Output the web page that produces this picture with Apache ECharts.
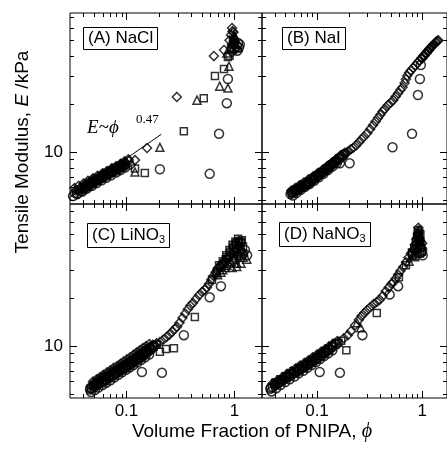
<!DOCTYPE html>
<html><head><meta charset="utf-8">
<script src="https://cdn.jsdelivr.net/npm/echarts@6/dist/echarts.min.js"></script>
<style>html,body{margin:0;padding:0;background:#fff}#c{width:447px;height:453px}</style>
</head><body><div id="c"></div>
<script>
// ---- tick values ----
const xMajorTicks = [0.1, 1];
const xMinorTicks = [0.04,0.05,0.06,0.07,0.08,0.09,0.2,0.3,0.4,0.5,0.6,0.7,0.8,0.9];
const yMajorTicks = [10];
const yMinorTicks = [5,6,7,8,9,20,30,40,50,60,70];
const xLabels = [0.1, 1];
const yLabels = [10];
const panelNames = ['(A) NaCl', '(B) NaI', '(C) LiNO', '(D) NaNO'];

// ---- data [phi, E(kPa)] ----
const A_circles = [[0.035,5.5],[0.038,5.7],[0.041,5.9],[0.045,6.1],[0.049,6.35],[0.054,6.6],[0.059,6.85],[0.065,7.1],[0.071,7.35],[0.078,7.6],[0.086,7.85],[0.094,8.1],
  [0.032,5.3],[0.035,5.45],[0.039,5.65],[0.043,5.9],[0.048,6.15],[0.053,6.4],[0.059,6.65],[0.065,6.9],[0.072,7.15],[0.08,7.45],[0.088,7.7],[0.097,8.0],
  [0.0335,5.55],[0.0375,5.85],[0.0415,6.05],[0.0455,6.3],[0.05,6.5],[0.055,6.75],[0.0605,7.0],[0.0665,7.3],[0.073,7.55],[0.0805,7.8],[0.0885,8.1],[0.097,8.35],
  [0.204,7.8],[0.59,7.3],[0.72,13.0],[0.85,20.2],[0.87,28.6],[1.0,44],[1.05,46],[1.08,48],[1.1,45],[1.12,47],[1.06,43]];
const A_squares = [[0.036,5.8],[0.040,6.05],[0.044,6.3],[0.048,6.5],[0.053,6.75],[0.058,7.0],[0.064,7.25],[0.070,7.5],[0.077,7.75],[0.085,8.0],[0.093,8.25],
  [0.12,7.9],[0.148,7.4],[0.34,13.5],[0.52,21.7],[0.66,29.9],[0.80,33],[0.87,39.3],[0.93,45],[0.97,50],[0.9,40],[0.94,44],[0.97,47],[1.0,49]];
const A_triangles = [[0.037,5.9],[0.042,6.2],[0.047,6.45],[0.052,6.7],[0.057,6.95],[0.063,7.2],[0.069,7.5],[0.076,7.8],[0.084,8.05],[0.092,8.35],[0.10,8.6],
  [0.12,7.5],[0.204,10.7],[0.45,21.1],[0.73,25.8],[0.87,25.1],[0.89,34.4],[0.85,41.6],[0.95,48],[1.0,52],[1.03,51],[0.99,54],[1.02,47],[1.08,45]];
const A_diamonds = [[0.034,5.75],[0.039,6.1],[0.043,6.35],[0.047,6.6],[0.051,6.8],[0.056,7.05],[0.061,7.3],[0.067,7.55],[0.074,7.85],[0.081,8.1],[0.089,8.4],[0.097,8.6],[0.105,8.8],
  [0.033,5.95],[0.036,6.15],[0.04,6.35],[0.044,6.6],[0.049,6.85],[0.054,7.1],[0.06,7.35],[0.066,7.6],[0.073,7.9],[0.08,8.15],[0.088,8.45],[0.096,8.75],[0.104,9.0],
  [0.11,8.3],[0.12,8.9],[0.155,10.6],[0.293,22.1],[0.645,39.8],[0.80,43.4],[0.93,54],[0.95,59.6],[0.9,50],[0.98,56],[0.96,57],[0.95,42]];
const A_fitLine = [[0.03,5.2],[0.21,12.9]];

const B_circles = [[0.056,5.45],[0.058,5.55],[0.060,5.6],[0.062,5.7],[0.064,5.75],[0.066,5.85],[0.068,5.9],[0.070,5.95],[0.073,6.05],[0.076,6.15],[0.079,6.25],[0.082,6.35],[0.085,6.45],[0.089,6.6],[0.093,6.75],[0.097,6.9],[0.101,7.05],[0.106,7.2],[0.111,7.4],[0.116,7.55],[0.122,7.75],[0.128,7.95],[0.134,8.15],[0.141,8.4],[0.148,8.6],[0.155,8.85],[0.163,9.1],[0.171,9.35],[0.18,9.6],
  [0.059,5.35],[0.064,5.55],[0.07,5.8],[0.077,6.05],[0.085,6.3],[0.094,6.6],[0.104,6.95],[0.115,7.3],[0.127,7.7],[0.14,8.1],[0.154,8.5],
  [0.0575,5.6],[0.063,5.8],[0.069,6.05],[0.0755,6.3],[0.083,6.55],[0.0915,6.85],[0.101,7.15],[0.111,7.5],[0.122,7.9],[0.134,8.3],[0.147,8.7],[0.161,9.15],[0.176,9.6],
  [0.165,8.5],[0.204,8.5],[0.522,10.7],[0.80,13.0],[0.91,22.7],[0.95,28.6],[0.97,35]];
const B_diamonds = [[0.06,5.75],[0.07,6.2],[0.08,6.5],[0.09,6.85],[0.10,7.2],[0.11,7.55],[0.12,7.9],[0.13,8.25],[0.14,8.6],[0.15,8.9],[0.16,9.2],[0.17,9.5],
  [0.057,5.75],[0.062,5.95],[0.068,6.2],[0.075,6.45],[0.083,6.75],[0.092,7.05],[0.102,7.4],[0.113,7.75],[0.125,8.15],[0.138,8.55],[0.152,9.0],[0.167,9.45],[0.183,9.9],
  [0.19,9.9],[0.20,10.15],[0.21,10.4],[0.22,10.6],[0.235,11.0],[0.25,11.5],[0.265,12.0],[0.28,12.5],[0.30,13.1],[0.32,13.9],[0.34,14.7],[0.36,15.5],[0.38,16.3],[0.40,17.1],[0.42,17.9],[0.44,18.6],[0.47,19.6],[0.50,20.3],[0.53,21.1],[0.56,22.2],[0.59,23.3],[0.62,24.4],[0.65,25.4],[0.68,27.0],[0.70,28.5],[0.72,30],[0.75,31.3],[0.78,32.3],[0.82,33.5],[0.86,34.8],[0.90,36],[0.94,37.3],[0.98,38.6],[1.02,39.8],[1.07,41.3],[1.12,42.8],[1.17,44.2],[1.22,45.6],[1.28,47],[1.34,48.3],[1.40,49.5],
  [1.0,38.5],[1.05,40],[1.1,41.5],[1.15,43],[1.2,44.5],[1.25,46],[1.3,47.5],[1.36,49],[1.42,50]];

const C_circles = [[0.046,5.35],[0.048,5.45],[0.050,5.55],[0.052,5.65],[0.054,5.75],[0.056,5.85],[0.059,5.95],[0.062,6.05],[0.065,6.15],[0.068,6.3],[0.071,6.4],[0.075,6.55],[0.079,6.7],[0.083,6.85],[0.087,7.0],[0.092,7.15],[0.097,7.3],[0.102,7.45],[0.108,7.65],[0.114,7.85],[0.12,8.05],[0.127,8.25],[0.134,8.45],[0.142,8.7],[0.15,8.95],[0.158,9.2],[0.167,9.5],[0.176,9.8],
  [0.047,5.15],[0.051,5.3],[0.055,5.5],[0.06,5.7],[0.065,5.9],[0.071,6.1],[0.077,6.35],[0.084,6.6],[0.091,6.85],[0.099,7.1],[0.107,7.35],[0.116,7.6],[0.126,7.9],[0.137,8.2],[0.149,8.5],[0.162,8.85],
  [0.0465,5.45],[0.0505,5.65],[0.055,5.85],[0.0595,6.0],[0.064,6.2],[0.069,6.45],[0.0745,6.65],[0.0805,6.9],[0.087,7.15],[0.094,7.4],[0.1015,7.65],[0.11,7.95],[0.119,8.25],[0.129,8.55],[0.14,8.9],[0.152,9.25],[0.165,9.65],[0.18,10.05],
  [0.139,6.88],[0.213,6.8],[0.34,11.7],[0.59,20.2],[0.75,23.7],[1.31,37],[1.2,38],[1.25,40]];
const C_squares = [[0.05,5.7],[0.055,5.95],[0.06,6.15],[0.065,6.35],[0.07,6.55],[0.076,6.75],[0.082,6.95],[0.088,7.15],[0.095,7.4],[0.102,7.6],[0.11,7.85],[0.118,8.1],[0.127,8.4],[0.136,8.7],[0.146,9.0],[0.156,9.3],[0.167,9.6],[0.178,9.9],[0.19,10.2],
  [0.204,9.2],[0.232,9.6],[0.275,9.7],[0.43,15.2],[0.62,26],[0.68,28.5],[0.74,31],[0.8,33],[0.86,36],[0.92,39],[0.98,42],[1.04,44],[1.1,45.5],[1.17,46],
  [0.72,32],[0.78,34],[0.84,37],[0.9,40],[0.96,43],[1.02,45],[1.08,47],[1.14,44],[1.2,42],
  [0.69,29.5],[0.76,32],[0.83,35],[0.9,38],[0.97,41],[1.03,43],[1.09,44.5],[1.15,45]];
const C_diamonds = [[0.047,5.65],[0.05,5.85],[0.054,6.05],[0.058,6.25],[0.062,6.45],[0.067,6.65],[0.072,6.85],[0.077,7.05],[0.083,7.25],[0.089,7.5],[0.095,7.7],[0.102,7.95],[0.109,8.2],[0.117,8.45],[0.125,8.75],[0.134,9.0],[0.143,9.3],[0.153,9.6],[0.164,9.9],[0.175,10.2],
  [0.049,6.0],[0.053,6.2],[0.057,6.4],[0.061,6.6],[0.066,6.85],[0.071,7.05],[0.076,7.3],[0.082,7.5],[0.088,7.75],[0.094,8.0],[0.101,8.25],[0.108,8.5],[0.116,8.8],[0.124,9.1],[0.133,9.4],[0.142,9.7],[0.152,10.0],[0.163,10.3],
  [0.19,10.4],[0.204,10.6],[0.22,11.0],[0.235,11.4],[0.25,11.8],[0.265,12.3],[0.28,12.8],[0.294,13.2],[0.31,14],[0.33,15],[0.35,16],[0.37,17],[0.39,17.9],[0.413,18.6],[0.44,19.7],[0.47,20.8],[0.50,21.8],[0.53,22.5],[0.556,23.3],[0.58,24.5],[0.61,26],[0.64,27.5],[0.67,29],[0.7,30.3],[0.73,31.5],[0.77,32.8],[0.81,34],[0.85,35.2],[0.9,36.5],[0.95,37.8],[1.0,39],[1.05,40.5],[1.1,42]];
const C_triangles = [[0.7,28],[0.78,30],[0.85,32],[0.92,34],[1.0,36],[1.08,38],[1.15,40],[0.95,31],[1.05,33],
  [0.75,29],[0.82,31],[0.88,33],[0.98,35],[1.12,37],[1.2,36],[1.3,35],[1.05,31.5],[1.15,33],[1.0,37],[1.08,39],[1.16,41],[1.22,39]];

const D_circles = [[0.036,5.4],[0.038,5.55],[0.040,5.7],[0.042,5.8],[0.044,5.95],[0.046,6.05],[0.048,6.15],[0.051,6.3],[0.054,6.45],[0.057,6.6],[0.06,6.75],[0.064,6.9],[0.068,7.05],[0.072,7.25],[0.076,7.4],[0.081,7.6],[0.086,7.8],[0.091,8.0],[0.097,8.2],[0.103,8.45],[0.11,8.7],[0.117,9.0],[0.124,9.3],[0.132,9.6],
  [0.037,5.2],[0.041,5.45],[0.045,5.7],[0.05,5.95],[0.055,6.2],[0.061,6.45],[0.067,6.75],[0.074,7.0],[0.081,7.3],[0.089,7.6],[0.098,7.95],[0.107,8.3],[0.117,8.65],[0.128,9.0],[0.14,9.4],
  [0.0365,5.5],[0.0395,5.7],[0.043,5.9],[0.047,6.15],[0.0515,6.4],[0.0565,6.65],[0.062,6.9],[0.068,7.2],[0.0745,7.45],[0.0815,7.75],[0.0895,8.05],[0.098,8.4],[0.1075,8.75],[0.1175,9.1],[0.128,9.45],[0.14,9.85],[0.153,10.25],
  [0.106,6.88],[0.165,6.8],[0.27,11.7],[0.49,21],[0.59,23.7],[1.01,37],[0.98,38.5],[1.0,40]];
const D_squares = [[0.04,5.9],[0.045,6.2],[0.05,6.45],[0.055,6.7],[0.06,6.95],[0.066,7.2],[0.072,7.45],[0.079,7.7],[0.086,8.0],[0.094,8.3],[0.102,8.6],[0.111,8.95],[0.12,9.3],[0.13,9.65],[0.14,10.0],[0.15,10.3],[0.16,10.5],[0.17,10.8],
  [0.19,9.4],[0.37,16.1],[0.6,27],[0.7,32],[0.8,37],[0.88,42],[0.93,46],[0.96,50],[0.95,38],[0.9,38],[0.86,36],
  [0.8,38.5],[0.84,41],[0.87,45],[0.895,49],[0.91,53],[0.93,49],[0.95,45],[0.97,42],[0.99,39]];
const D_diamonds = [[0.038,5.85],[0.042,6.1],[0.047,6.4],[0.052,6.7],[0.057,6.95],[0.063,7.25],[0.069,7.55],[0.076,7.85],[0.083,8.15],[0.091,8.5],[0.1,8.85],[0.109,9.2],[0.119,9.55],[0.13,9.95],[0.142,10.35],[0.155,10.7],
  [0.18,11.2],[0.196,11.7],[0.21,12.4],[0.23,13.5],[0.25,14.6],[0.265,15.4],[0.281,16.1],[0.30,16.8],[0.32,17.5],[0.345,18.3],[0.37,18.9],[0.395,19.5],[0.42,20.6],[0.45,22],[0.48,23.3],[0.51,24.5],[0.533,25.2],[0.56,26.5],[0.59,28],[0.62,29.5],[0.66,31.2],[0.7,33.5],[0.74,35.8],[0.78,38],[0.817,40],[0.85,43],[0.88,46.5],[0.91,50],[0.93,53],[0.92,55],
  [0.85,40],[0.88,44],[0.9,48],[0.92,51],[0.94,47],[0.96,43],[0.98,41],[1.0,44]];
const D_triangles = [[0.24,14],[0.26,13],[0.75,34],[0.82,37],[0.9,41],[0.95,45],[0.97,48],[0.92,52]];

// ---- layout ----
const grids = [
  {left:70, top:13, width:192, height:191},
  {left:262, top:13, width:190, height:191},
  {left:70, top:204, width:192, height:194},
  {left:262, top:204, width:190, height:194}
];
const xR = [[0.03,1.8],[0.03,1.72],[0.03,1.8],[0.03,1.72]];
const yR = [[4.73,74],[4.73,74],[4.73,77.5],[4.73,77.5]];
const FONT = '"Liberation Sans", Arial, Helvetica, sans-serif';

const chart = echarts.init(document.getElementById('c'), null, {renderer:'canvas'});

const xAxes = grids.map((g,i)=>({
  type:'log', gridIndex:i, min:xR[i][0], max:xR[i][1], logBase:10,
  axisLine:{show:false}, axisTick:{show:false}, splitLine:{show:false}, minorTick:{show:false},
  axisLabel:{show: i>=2, customValues:xLabels, formatter:v=>String(+(+v).toPrecision(3)), color:'#000', fontSize:17, fontFamily:FONT, margin:5}
}));
const yAxes = grids.map((g,i)=>({
  type:'log', gridIndex:i, min:yR[i][0], max:yR[i][1], logBase:10,
  axisLine:{show:false}, axisTick:{show:false}, splitLine:{show:false}, minorTick:{show:false},
  axisLabel:{show: i%2===0, customValues:yLabels, formatter:v=>String(Math.round(+v)), color:'#000', fontSize:17, fontFamily:FONT, margin:7}
}));

const markerStyle = {color:'rgba(255,255,255,0)', borderColor:'#000', borderWidth:1.5};
function scatter(i, data, name, size){
  return {type:'scatter', xAxisIndex:i, yAxisIndex:i, data, symbol:name, symbolSize:size,
    itemStyle:markerStyle, silent:true, animation:false, z:2, large:false};
}

function tickSeries(i){
  const xd = xMajorTicks.map(v=>[v,10,1]).concat(xMinorTicks.map(v=>[v,10,0]))
    .filter(d=>d[0]>xR[i][0] && d[0]<xR[i][1]);
  const yd = yMajorTicks.map(v=>[0.3,v,1]).concat(yMinorTicks.map(v=>[0.3,v,0]))
    .filter(d=>d[1]>yR[i][0] && d[1]<yR[i][1]);
  const st = {stroke:'#000', lineWidth:1};
  return [
    {type:'custom', xAxisIndex:i, yAxisIndex:i, data:xd, silent:true, animation:false, z:5,
     renderItem:(p,api)=>{
       const v=api.value(0), L=api.value(2)?7:4;
       const b=api.coord([v,yR[i][0]]), t=api.coord([v,yR[i][1]]);
       const x=Math.round(b[0])+0.5;
       return {type:'group', children:[
         {type:'line', shape:{x1:x,y1:b[1],x2:x,y2:b[1]-L}, style:st},
         {type:'line', shape:{x1:x,y1:t[1],x2:x,y2:t[1]+L}, style:st}]};
     }},
    {type:'custom', xAxisIndex:i, yAxisIndex:i, data:yd, silent:true, animation:false, z:5,
     renderItem:(p,api)=>{
       const v=api.value(1), L=api.value(2)?7:4;
       const l=api.coord([xR[i][0],v]), r=api.coord([xR[i][1],v]);
       const y=Math.round(l[1])+0.5;
       return {type:'group', children:[
         {type:'line', shape:{x1:l[0],y1:y,x2:l[0]+L,y2:y}, style:st},
         {type:'line', shape:{x1:r[0],y1:y,x2:r[0]-L,y2:y}, style:st}]};
     }}
  ];
}

let series = [];
series.push(scatter(0,A_circles,'circle',9), scatter(0,A_squares,'rect',7), scatter(0,A_triangles,'triangle',8), scatter(0,A_diamonds,'diamond',9));
series.push({type:'line', xAxisIndex:0, yAxisIndex:0, data:A_fitLine, symbol:'none', lineStyle:{color:'#000', width:1}, silent:true, animation:false, z:3});
series.push(scatter(1,B_circles,'circle',9), scatter(1,B_diamonds,'diamond',9));
series.push(scatter(2,C_circles,'circle',9), scatter(2,C_squares,'rect',7), scatter(2,C_triangles,'triangle',8), scatter(2,C_diamonds,'diamond',9));
series.push(scatter(3,D_circles,'circle',9), scatter(3,D_squares,'rect',7), scatter(3,D_triangles,'triangle',8), scatter(3,D_diamonds,'diamond',9));
for (let i=0;i<4;i++) series = series.concat(tickSeries(i));

const labelPos = [[83,27],[282,27],[87,222],[279,221]];
const titles = panelNames.map((n,i)=>({
  text: i>=2 ? '{n|'+n+'}{s|3}' : '{n|'+n+'}',
  left: labelPos[i][0], top: labelPos[i][1],
  borderColor:'#000', borderWidth:1, padding:[3,5,3,5], backgroundColor:'#fff',
  textStyle:{fontSize:17, fontWeight:'normal', color:'#000', fontFamily:FONT,
    rich:{n:{fontSize:17, fontFamily:FONT, color:'#000'}, s:{fontSize:11, fontFamily:FONT, color:'#000', padding:[9,0,0,0]}}}
}));

chart.setOption({
  animation:false,
  backgroundColor:'#fff',
  title: titles,
  grid: grids.map(g=>Object.assign({show:true, borderColor:'#000', borderWidth:1, backgroundColor:'transparent', containLabel:false}, g)),
  xAxis: xAxes, yAxis: yAxes, series,
  graphic: [
    {type:'text', x:252, y:432, style:{text:'{a|Volume Fraction of PNIPA, }{b|ϕ}', align:'center', verticalAlign:'middle',
      rich:{a:{fontSize:19, fontFamily:FONT, fill:'#000'}, b:{fontSize:20, fontFamily:'"Liberation Serif", serif', fontStyle:'italic', fill:'#000'}}}},
    {type:'text', x:23, y:152, rotation:Math.PI/2, style:{text:'{a|Tensile Modulus, }{b|E}{a| /kPa}', align:'center', verticalAlign:'middle',
      rich:{a:{fontSize:19, fontFamily:FONT, fill:'#000'}, b:{fontSize:19, fontFamily:FONT, fontStyle:'italic', fill:'#000'}}}},
    {type:'text', x:87, y:128, style:{text:'E~ϕ', font:'italic 19px "Liberation Serif", serif', fill:'#000', verticalAlign:'middle'}},
    {type:'text', x:136, y:120, style:{text:'0.47', font:'13px "Liberation Serif", serif', fill:'#000', verticalAlign:'middle'}}
  ]
});
</script></body></html>
